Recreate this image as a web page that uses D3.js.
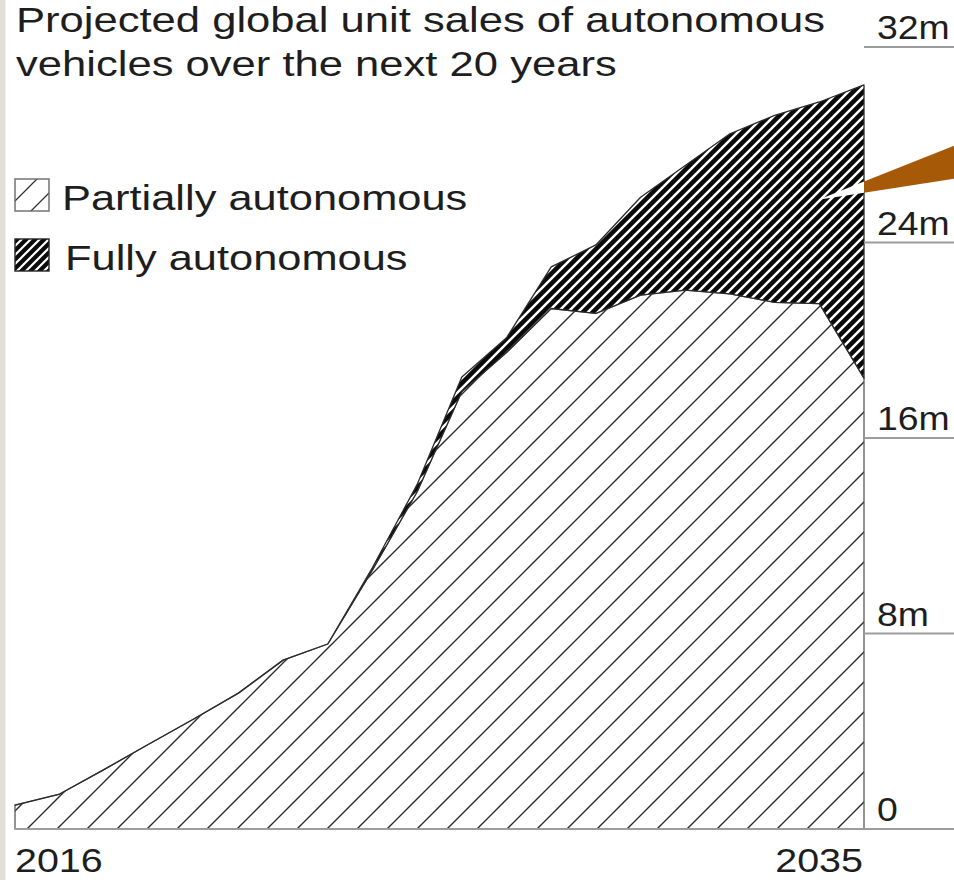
<!DOCTYPE html>
<html>
<head>
<meta charset="utf-8">
<script src="https://cdn.jsdelivr.net/npm/d3@7/dist/d3.min.js"></script>
<style>
  html, body { margin: 0; padding: 0; background: #fff; }
  svg { display: block; }
  text { font-family: "Liberation Sans", Arial, Helvetica, sans-serif; fill: #1e1e1e; }
</style>
</head>
<body>
<svg id="chart" width="954" height="880"></svg>
<script>
// Projected global unit sales (millions), 2016-2035
const years = [2016, 2017, 2018, 2019, 2020, 2021, 2022, 2023, 2024, 2025,
               2026, 2027, 2028, 2029, 2030, 2031, 2032, 2033, 2034, 2035];
const partial = [0.98, 1.43, 2.44, 3.48, 4.5, 5.56, 6.91, 7.57, 10.6, 13.8,
                 17.9, 19.5, 21.3, 21.1, 21.85, 22.05, 21.9, 21.55, 21.5, 18.45];
const fully = [0, 0, 0, 0, 0, 0, 0, 0, 0.1, 0.3,
               0.6, 0.6, 1.7, 2.8, 4.0, 5.1, 6.55, 7.65, 8.25, 12.0];
const yTicks = [0, 8, 16, 24, 32];
const yTickLabels = ["0", "8m", "16m", "24m", "32m"];
const xTickYears = [2016, 2035];
const titleLines = ["Projected global unit sales of autonomous", "vehicles over the next 20 years"];
const legendLabels = ["Partially autonomous", "Fully autonomous"];
const seriesKeys = ["partial", "fully"];

const W = 954, H = 880;
const svg = d3.select("#chart");

const x = d3.scaleLinear().domain([2016, 2035]).range([15, 864]);
const y = d3.scaleLinear().domain([0, 32]).range([829, 47]);

// widen glyphs horizontally by factor k
function widen(sel, k) {
  sel.each(function () {
    const w = this.getComputedTextLength();
    this.setAttribute("textLength", w * k);
    this.setAttribute("lengthAdjust", "spacingAndGlyphs");
  });
}

// side strip
svg.append("rect").attr("x", 0).attr("y", 0).attr("width", 5.5).attr("height", H).attr("fill", "#e4dfd6");

// diagonal hatch patterns
const defs = svg.append("defs");
function hatch(id, a, b, bg, fg, sw, ox, oy) {
  const p = defs.append("pattern").attr("id", id)
    .attr("patternUnits", "userSpaceOnUse")
    .attr("x", ox).attr("y", oy).attr("width", a).attr("height", b);
  p.append("rect").attr("width", a).attr("height", b).attr("fill", bg);
  p.append("path")
    .attr("d", `M${-a * 0.25},${b * 0.25}L${a * 0.25},${-b * 0.25}` +
               `M0,${b}L${a},0` +
               `M${a * 0.75},${b * 1.25}L${a * 1.25},${b * 0.75}`)
    .attr("stroke", fg).attr("stroke-width", sw).attr("fill", "none");
}
hatch("hatchLight", 30, 30, "#fff", "#2a2a2a", 1.4, 16, 0);
hatch("hatchDark", 10, 10, "#0a0a0a", "#fff", 2.5, 0, 0);
hatch("hatchLegendLight", 26, 26, "#fff", "#333", 1.3, 2, 6);
hatch("hatchLegendDark", 9, 9, "#0a0a0a", "#fff", 2.2, 0, 0);

// stacked areas
const rows = years.map((yr, i) => ({ year: yr, partial: partial[i], fully: fully[i] }));
const stacked = d3.stack().keys(seriesKeys)(rows);
const area = d3.area()
  .x(d => x(d.data.year))
  .y0(d => y(d[0]))
  .y1(d => y(d[1]));

const fills = { partial: "url(#hatchLight)", fully: "url(#hatchDark)" };
const strokes = { partial: "#5a5a5a", fully: "#2a2a2a" };
svg.append("g").selectAll("path").data(stacked).join("path")
  .attr("d", area)
  .attr("fill", d => fills[d.key])
  .attr("stroke", d => strokes[d.key])
  .attr("stroke-width", 1.3)
  .attr("stroke-linejoin", "round");

// y-axis rules on the right, baseline across the plot
svg.append("g").selectAll("line").data(yTicks).join("line")
  .attr("x1", d => d === 0 ? x(2016) : x(2035))
  .attr("x2", W)
  .attr("y1", d => y(d)).attr("y2", d => y(d))
  .attr("stroke", "#9c9c9c").attr("stroke-width", 2);

svg.append("g").selectAll("text").data(yTicks).join("text")
  .attr("x", x(2035) + 13)
  .attr("y", d => y(d) - 8)
  .attr("font-size", 34)
  .text((d, i) => yTickLabels[i])
  .call(widen, 1.1);

// x-axis labels
svg.append("g").selectAll("text").data(xTickYears).join("text")
  .attr("x", d => d === 2016 ? x(d) : x(d) - 1)
  .attr("y", 872)
  .attr("text-anchor", d => d === 2016 ? "start" : "end")
  .attr("font-size", 34)
  .text(d => d)
  .call(widen, 1.16);

// title
svg.append("g").selectAll("text").data(titleLines).join("text")
  .attr("x", 16)
  .attr("y", (d, i) => 32 + i * 44)
  .attr("font-size", 35)
  .text(d => d)
  .call(widen, 1.245);

// legend
const legend = svg.append("g");
const legendFills = ["url(#hatchLegendLight)", "url(#hatchLegendDark)"];
const legendStrokes = ["#6a6a6a", "#222"];
legend.selectAll("rect").data(legendLabels).join("rect")
  .attr("x", 15).attr("y", (d, i) => 179 + i * 60)
  .attr("width", 34).attr("height", 32)
  .attr("fill", (d, i) => legendFills[i])
  .attr("stroke", (d, i) => legendStrokes[i])
  .attr("stroke-width", 1.4);
legend.selectAll("text").data(legendLabels).join("text")
  .attr("x", (d, i) => i === 0 ? 62 : 65)
  .attr("y", (d, i) => 210 + i * 60)
  .attr("font-size", 35)
  .text(d => d)
  .call(widen, 1.24);

// callout pointer into the fully-autonomous band
const tip = { x: x(2034) - 1, y: y(25.75) };
const edgeTop = tip.y - 54, edgeBot = tip.y - 21;
const span = W - tip.x;
const atPlot = t => tip.y + (t - tip.y) * (x(2035) - tip.x) / span;
svg.append("path")
  .attr("d", `M${tip.x},${tip.y}L${x(2035)},${atPlot(edgeTop)}L${x(2035)},${atPlot(edgeBot)}Z`)
  .attr("fill", "#fff");
svg.append("path")
  .attr("d", `M${x(2035)},${atPlot(edgeTop)}L${W},${edgeTop}L${W},${edgeBot}L${x(2035)},${atPlot(edgeBot)}Z`)
  .attr("fill", "#a65a08");
</script>
</body>
</html>
